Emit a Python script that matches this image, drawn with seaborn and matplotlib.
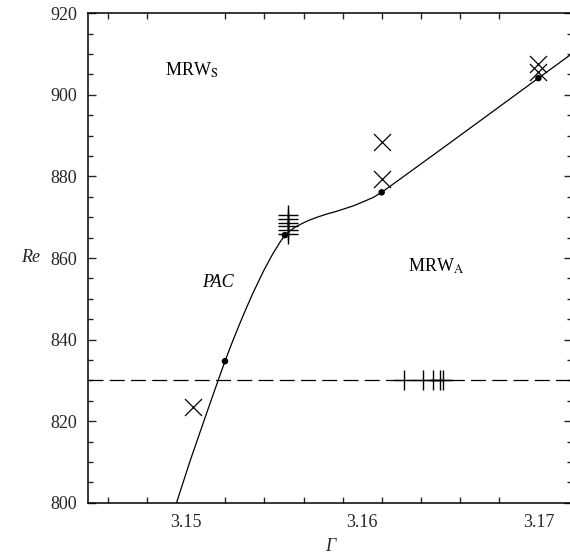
import matplotlib
matplotlib.use("Agg")
import matplotlib.pyplot as plt
import seaborn as sns
import numpy as np
import pandas as pd
from matplotlib.ticker import MultipleLocator, FixedLocator

# ---- data ----
curve_gamma = [3.14945, 3.1502, 3.1510, 3.1516, 3.1522, 3.1526, 3.1530, 3.1534, 3.1538, 3.1544,
               3.1549, 3.1553, 3.1556, 3.1559, 3.1562, 3.1566, 3.1570, 3.1575,
               3.1580, 3.1585, 3.1590, 3.1595, 3.1600, 3.1606, 3.1611, 3.1620,
               3.1650, 3.1700, 3.1720]
curve_re = [800.0, 810.0, 820.0, 827.4, 834.7, 839.2, 843.5, 847.6, 851.5, 856.9,
            860.9, 863.7, 865.6, 866.7, 867.6, 868.5, 869.3, 870.1,
            870.8, 871.4, 872.1, 872.8, 873.7, 874.8, 876.1, 878.9,
            888.3, 904.1, 910.4]

dot_gamma = [3.1522, 3.1556, 3.1611, 3.1700]
dot_re = [834.7, 865.6, 876.1, 904.1]

cross_gamma = [3.1504, 3.1611, 3.1611, 3.1700, 3.1700]
cross_re = [823.4, 879.3, 888.4, 905.7, 907.6]

plus_gamma = [3.15579, 3.15579, 3.15579, 3.15579, 3.15579, 3.15579,
              3.16236, 3.16342, 3.16402, 3.16444, 3.16459]
plus_re = [866.0, 866.9, 867.8, 868.7, 869.6, 870.5,
           830.0, 830.0, 830.0, 830.0, 830.0]

threshold_re = 830.0

x_ticks = [3.15, 3.16, 3.17]
x_ticklabels = ["3.15", "3.16", "3.17"]
y_ticks = [800, 820, 840, 860, 880, 900, 920]

region_labels = [("MRW$_{\\mathrm{S}}$", 3.1503, 906.0, "normal"),
                 ("PAC", 3.1518, 854.0, "italic"),
                 ("MRW$_{\\mathrm{A}}$", 3.1642, 858.0, "normal")]

# ---- style ----
sns.set_theme(style="ticks")
plt.rcParams["font.family"] = ["Liberation Serif", "DejaVu Serif"]
plt.rcParams["mathtext.fontset"] = "stix"
plt.rcParams["axes.linewidth"] = 1.1

W, H = 570, 559
fig = plt.figure(figsize=(W / 100, H / 100), dpi=100)
left_px, right_px, top_px, bot_px = 88, 572, 13.3, 502.7
ax = fig.add_axes([left_px / W, 1 - bot_px / H, (right_px - left_px) / W, (bot_px - top_px) / H])

curve_df = pd.DataFrame({"gamma": curve_gamma, "re": curve_re})
sns.lineplot(data=curve_df, x="gamma", y="re", sort=False, color="black", lw=0.9, ax=ax)

ax.axhline(threshold_re, color="black", lw=0.9, dashes=(12, 5))

sns.scatterplot(x=dot_gamma, y=dot_re, color="black", s=22, edgecolor="none", ax=ax, zorder=5)
sns.scatterplot(x=cross_gamma, y=cross_re, marker="x", color="black", s=150, linewidth=0.9, ax=ax, zorder=5)
sns.scatterplot(x=plus_gamma, y=plus_re, marker="+", color="black", s=200, linewidth=1.0, ax=ax, zorder=5)

ax.set_xlim(3.14442, 3.17191)
ax.set_ylim(800, 920)

ax.xaxis.set_major_locator(FixedLocator(x_ticks))
ax.set_xticklabels(x_ticklabels)
minor_x = [3.15 + k * 0.02 / 9 for k in range(-2, 11)]
ax.xaxis.set_minor_locator(FixedLocator(minor_x))
ax.yaxis.set_major_locator(FixedLocator(y_ticks))
ax.yaxis.set_minor_locator(MultipleLocator(5))

ax.tick_params(axis="x", which="major", direction="in", length=0, labelsize=13, pad=8,
               top=True, bottom=True)
ax.tick_params(axis="x", which="minor", direction="in", length=4, width=1.0, top=True, bottom=True)
ax.tick_params(axis="y", which="major", direction="in", length=6, width=1.0, labelsize=13,
               left=True, right=True, pad=8)
ax.tick_params(axis="y", which="minor", direction="in", length=3.5, width=1.0, left=True, right=True)

for sp in ax.spines.values():
    sp.set_visible(True)
    sp.set_color("black")

ax.set_xlabel("Γ", fontsize=13, style="italic", labelpad=5)
ax.set_ylabel("Re", fontsize=13, style="italic", rotation=0, labelpad=14, va="center")

for txt, gx, ry, st in region_labels:
    ax.text(gx, ry, txt, fontsize=13, style=st, ha="center", va="center", color="black")

fig.savefig("out.png", dpi=100)
